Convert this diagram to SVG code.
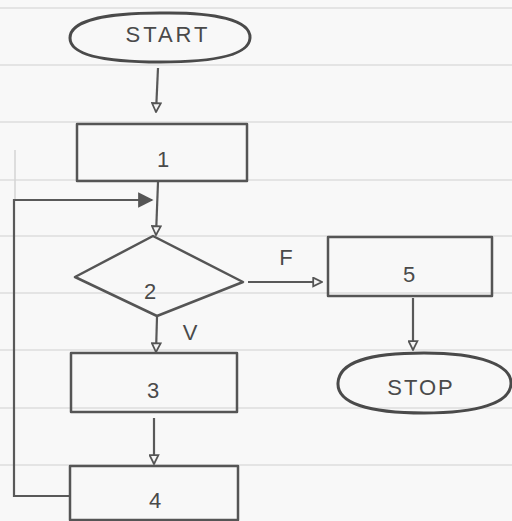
<svg xmlns="http://www.w3.org/2000/svg" width="512" height="521" viewBox="0 0 512 521">
  <style>
    .ruling { stroke: #dedede; stroke-width: 1.5; }
    .shape { fill: none; stroke: #555; stroke-width: 2.5; stroke-linejoin: round; }
    .term { fill: none; stroke: #4a4a4a; stroke-width: 3; }
    .edge { fill: none; stroke: #595959; stroke-width: 2.2; }
    .label { font-family: "Liberation Sans", "DejaVu Sans", sans-serif; font-size: 22px; fill: #4a4a4a; text-anchor: middle; }
  </style>
  <defs>
    <marker id="openHead" viewBox="0 0 10 10" refX="9" refY="5" markerWidth="5" markerHeight="5" orient="auto" markerUnits="strokeWidth">
      <path d="M1,1 L9,5 L1,9 Z" fill="#f6f6f6" stroke="#555" stroke-width="1.6"/>
    </marker>
    <marker id="solidHead" viewBox="0 0 10 10" refX="9" refY="5" markerWidth="7" markerHeight="7" orient="auto" markerUnits="strokeWidth">
      <path d="M0,0 L10,5 L0,10 Z" fill="#555"/>
    </marker>
  </defs>

  <!-- paper -->
  <rect width="512" height="521" fill="#f8f8f8"/>
  <g id="ruling">
    <line class="ruling" x1="0" y1="8" x2="512" y2="8"/>
    <line class="ruling" x1="0" y1="65" x2="512" y2="65"/>
    <line class="ruling" x1="0" y1="122" x2="512" y2="122"/>
    <line class="ruling" x1="0" y1="180" x2="512" y2="180"/>
    <line class="ruling" x1="0" y1="236" x2="512" y2="236"/>
    <line class="ruling" x1="0" y1="293" x2="512" y2="293"/>
    <line class="ruling" x1="0" y1="350" x2="512" y2="350"/>
    <line class="ruling" x1="0" y1="408" x2="512" y2="408"/>
    <line class="ruling" x1="0" y1="465" x2="512" y2="465"/>
    <line x1="15" y1="150" x2="15" y2="200" stroke="#d4d4d4" stroke-width="1.5"/>
  </g>

  <!-- connectors -->
  <g id="connectors">
    <path class="edge" d="M158,68 L156,112" marker-end="url(#openHead)"/>
    <path class="edge" d="M158,182 L156,235" marker-end="url(#openHead)"/>
    <path class="edge" d="M70,496 L14,496 L14,200 L152,200" marker-end="url(#solidHead)"/>
    <path class="edge" d="M248,282 L322,282" marker-end="url(#openHead)"/>
    <path class="edge" d="M413,298 L413,350" marker-end="url(#openHead)"/>
    <path class="edge" d="M157,317 L156,352" marker-end="url(#openHead)"/>
    <path class="edge" d="M154,418 L154,464" marker-end="url(#openHead)"/>
    <text class="label" x="286" y="265">F</text>
    <text class="label" x="190" y="340">V</text>
  </g>

  <!-- nodes -->
  <g id="start">
    <path class="term" d="M160,13 C215,12 251,20 250,38 C249,56 212,62 160,62 C105,62 70,55 70,38 C70,20 108,13 160,13 Z"/>
    <text class="label" x="168" y="42" letter-spacing="3">START</text>
  </g>
  <g id="step1">
    <rect class="shape" x="77" y="124" width="170" height="57"/>
    <text class="label" x="163" y="167">1</text>
  </g>
  <g id="decision2">
    <polygon class="shape" points="153,236 243,282 157,316 75,277"/>
    <text class="label" x="150" y="299">2</text>
  </g>
  <g id="step5">
    <rect class="shape" x="328" y="237" width="164" height="59"/>
    <text class="label" x="409" y="282">5</text>
  </g>
  <g id="stop">
    <path class="term" d="M424,353 C480,353 512,365 511,384 C510,403 478,413 424,413 C368,413 337,403 338,383 C339,362 368,353 424,353 Z"/>
    <text class="label" x="421" y="395" letter-spacing="2">STOP</text>
  </g>
  <g id="step3">
    <rect class="shape" x="71" y="353" width="166" height="59"/>
    <text class="label" x="153" y="398">3</text>
  </g>
  <g id="step4">
    <rect class="shape" x="70" y="466" width="168" height="54"/>
    <text class="label" x="155" y="508">4</text>
  </g>
</svg>
